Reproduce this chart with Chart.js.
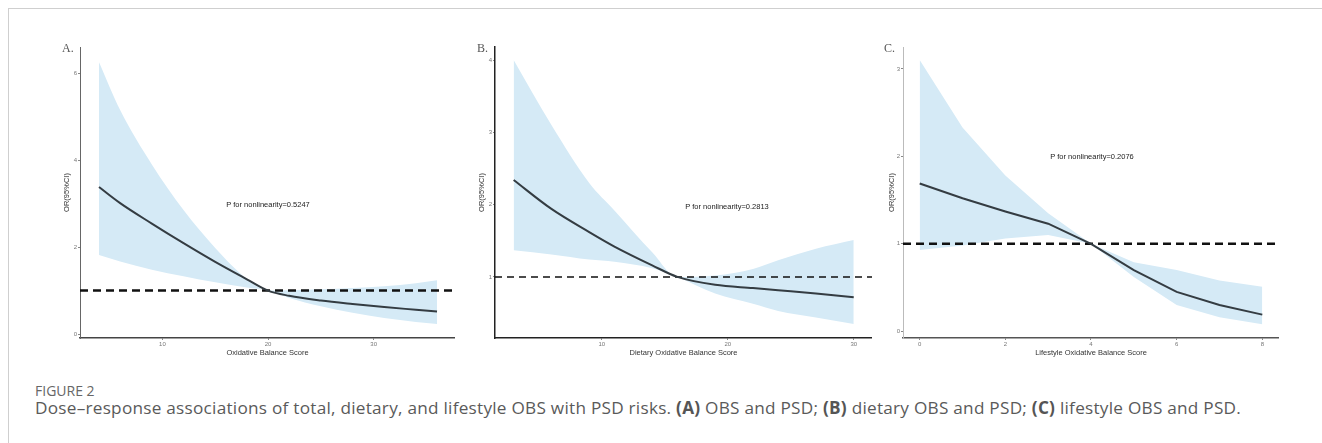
<!DOCTYPE html>
<html>
<head>
<meta charset="utf-8">
<script src="https://cdn.jsdelivr.net/npm/chart.js@4.4.0/dist/chart.umd.min.js"></script>
<style>
  body { margin: 0; background: #fff; width: 1322px; height: 443px; position: relative; overflow: hidden; font-family: "Liberation Sans", Arial, sans-serif; }
  .frame { position: absolute; left: 8px; top: 8px; width: 1314px; height: 435px; border-left: 1px solid #cfcfcf; border-top: 1px solid #cfcfcf; }
  canvas { position: absolute; }
  .lbl { position: absolute; font-family: "Liberation Serif", serif; font-size: 12px; color: #555; }
  .ptxt { position: absolute; font-size: 7.5px; color: #222; white-space: nowrap; transform: translate(-50%, -50%); }
  .fig { position: absolute; left: 35px; top: 381px; font-family: "Open Sans", sans-serif; font-size: 14px; color: #666; }
  .cap { position: absolute; left: 35px; top: 396px; font-family: "Open Sans", sans-serif; font-size: 17.2px; letter-spacing: 0.25px; color: #5a5a5a; white-space: nowrap; }
  .cap b { font-weight: 700; color: #555; }
</style>
</head>
<body>
<div class="frame"></div>

<canvas id="chartA" style="left:62px;top:40px" width="393" height="317"></canvas>
<canvas id="chartB" style="left:477px;top:40px" width="395" height="317"></canvas>
<canvas id="chartC" style="left:887px;top:40px" width="392" height="317"></canvas>

<div class="lbl" style="left:62px;top:41px">A.</div>
<div class="lbl" style="left:477px;top:41px">B.</div>
<div class="lbl" style="left:884px;top:41px">C.</div>

<div class="ptxt" style="left:268px;top:204px">P for nonlinearity=0.5247</div>
<div class="ptxt" style="left:727px;top:206px">P for nonlinearity=0.2813</div>
<div class="ptxt" style="left:1092px;top:156px">P for nonlinearity=0.2076</div>

<div class="fig">FIGURE 2</div>
<div class="cap">Dose–response associations of total, dietary, and lifestyle OBS with PSD risks. <b>(A)</b> OBS and PSD; <b>(B)</b> dietary OBS and PSD; <b>(C)</b> lifestyle OBS and PSD.</div>

<script>
// ---- panel A: total OBS
const scoreA = [4, 6, 9, 12, 15, 18, 20, 22, 25, 28, 31, 34, 36];
const orA    = [3.38, 3.01, 2.54, 2.09, 1.66, 1.26, 1.0, 0.88, 0.77, 0.69, 0.62, 0.56, 0.52];
const upperA = [6.25, 5.15, 3.9, 2.85, 1.98, 1.27, 1.0, 1.01, 1.03, 1.06, 1.1, 1.17, 1.24];
const lowerA = [1.82, 1.67, 1.48, 1.33, 1.19, 1.07, 1.0, 0.83, 0.64, 0.49, 0.37, 0.28, 0.23];
const xTicksA = [10, 20, 30];
const yTicksA = [0, 2, 4, 6];

// ---- panel B: dietary OBS
const scoreB = [3, 6, 9, 11, 14, 16, 19, 22, 24, 27, 30];
const orB    = [2.34, 1.94, 1.62, 1.42, 1.16, 1.0, 0.89, 0.845, 0.815, 0.77, 0.72];
const upperB = [4.0, 3.1, 2.3, 1.92, 1.34, 1.0, 1.02, 1.11, 1.23, 1.39, 1.51];
const lowerB = [1.37, 1.31, 1.24, 1.21, 1.12, 1.0, 0.77, 0.63, 0.53, 0.44, 0.35];
const xTicksB = [10, 20, 30];
const yTicksB = [1, 2, 3, 4];

// ---- panel C: lifestyle OBS
const scoreC = [0, 1, 2, 3, 4, 5, 6, 7, 8];
const orC    = [1.69, 1.52, 1.37, 1.23, 1.0, 0.70, 0.45, 0.30, 0.19];
const upperC = [3.10, 2.33, 1.78, 1.35, 1.0, 0.79, 0.70, 0.58, 0.51];
const lowerC = [0.93, 0.98, 1.06, 1.10, 1.0, 0.62, 0.30, 0.16, 0.08];
const xTicksC = [0, 2, 4, 6, 8];
const yTicksC = [0, 1, 2, 3];

const refOR = 1;

function pts(xs, ys) {
    return xs.map((x, i) => ({ x: x, y: ys[i] }));
}

function makePanel(id, p) {
    const ctx = document.getElementById(id);
    return new Chart(ctx, {
        type: 'line',
        data: {
            datasets: [
                // band first (drawn underneath: higher order = drawn earlier)
                { data: pts(p.x, p.upper), order: 3, borderWidth: 0, pointRadius: 0, fill: false, tension: p.tension, cubicInterpolationMode: p.mode },
                { data: pts(p.x, p.lower), order: 2, borderWidth: 0, pointRadius: 0, fill: '-1', backgroundColor: '#d5eaf6', tension: p.tension, cubicInterpolationMode: p.mode },
                { data: [{ x: p.xMin, y: refOR }, { x: p.xMax, y: refOR }], order: 1, borderColor: '#111', borderWidth: p.dashW, borderDash: p.dash, pointRadius: 0, fill: false },
                { data: pts(p.x, p.or), order: 0, borderColor: '#343c42', borderWidth: 2, pointRadius: 0, fill: false, tension: p.tension, cubicInterpolationMode: p.mode }
            ]
        },
        options: {
            responsive: false,
            animation: false,
            events: [],
            layout: { padding: { top: 7, right: 0, bottom: 0, left: 0 } },
            plugins: { legend: { display: false }, tooltip: { enabled: false } },
            scales: {
                x: {
                    type: 'linear',
                    min: p.xMin, max: p.xMax,
                    afterBuildTicks: s => { s.ticks = p.xTicks.map(v => ({ value: v })); },
                    afterFit: s => { s.height = 19; },
                    grid: { drawOnChartArea: false, drawTicks: true, tickLength: 2, tickColor: '#888' },
                    border: { display: true, color: p.xAxisColor, width: p.xAxisW },
                    ticks: { font: { size: 6, family: 'Liberation Sans' }, color: '#777', padding: 1, maxRotation: 0 },
                    title: { display: true, text: p.xTitle, font: { size: 7.5, family: 'Liberation Sans' }, color: '#333', padding: 0 }
                },
                y: {
                    type: 'linear',
                    min: p.yMin, max: p.yMax,
                    afterBuildTicks: s => { s.ticks = p.yTicks.map(v => ({ value: v })); },
                    afterFit: s => { s.width = p.yW; },
                    grid: { drawOnChartArea: false, drawTicks: true, tickLength: 2, tickColor: '#888' },
                    border: { display: true, color: p.yAxisColor, width: p.yAxisW },
                    ticks: { font: { size: 6, family: 'Liberation Sans' }, color: '#777', padding: 1 },
                    title: { display: true, text: 'OR(95%CI)', font: { size: 7.5, family: 'Liberation Sans' }, color: '#333', padding: 0 }
                }
            }
        }
    });
}

makePanel('chartA', {
    x: scoreA, or: orA, upper: upperA, lower: lowerA,
    xTicks: xTicksA, yTicks: yTicksA, xMin: 2.2, xMax: 37.7, yMin: -0.09, yMax: 6.6,
    tension: 0.4, mode: 'monotone', dash: [8, 5], dashW: 2.5, yW: 18,
    xAxisColor: '#444', xAxisW: 1.5, yAxisColor: '#666', yAxisW: 1,
    xTitle: 'Oxidative Balance Score'
});
makePanel('chartB', {
    x: scoreB, or: orB, upper: upperB, lower: lowerB,
    xTicks: xTicksB, yTicks: yTicksB, xMin: 1.52, xMax: 31.45, yMin: 0.155, yMax: 4.18,
    tension: 0.4, mode: 'monotone', dash: [7, 5], dashW: 1.5, yW: 18,
    xAxisColor: '#222', xAxisW: 1.5, yAxisColor: '#222', yAxisW: 1.5,
    xTitle: 'Dietary Oxidative Balance Score'
});
makePanel('chartC', {
    x: scoreC, or: orC, upper: upperC, lower: lowerC,
    xTicks: xTicksC, yTicks: yTicksC, xMin: -0.39, xMax: 8.39, yMin: -0.077, yMax: 3.25,
    tension: 0, mode: 'default', dash: [8, 5], dashW: 2.5, yW: 16,
    xAxisColor: '#555', xAxisW: 1.5, yAxisColor: '#bbb', yAxisW: 1,
    xTitle: 'Lifestyle Oxidative Balance Score'
});
</script>
</body>
</html>
